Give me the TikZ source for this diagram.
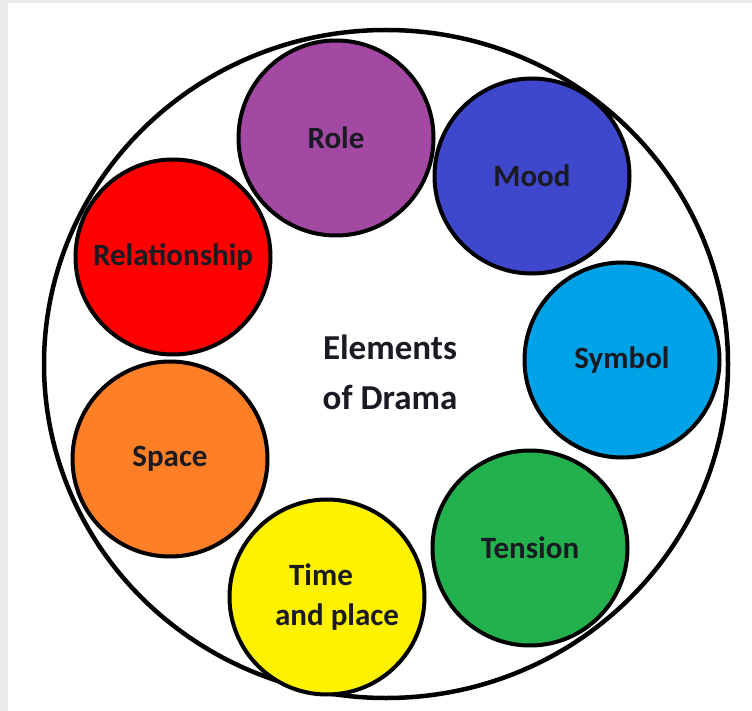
\documentclass[tikz,border=0pt]{standalone}
\usepackage{fontspec}
\setmainfont{Carlito}
\usetikzlibrary{positioning}
\definecolor{rolecol}{HTML}{A349A4}
\definecolor{moodcol}{HTML}{3F48CC}
\definecolor{symbolcol}{HTML}{00A2E8}
\definecolor{tensioncol}{HTML}{22B14C}
\definecolor{timecol}{HTML}{FFF200}
\definecolor{spacecol}{HTML}{FF7F27}
\definecolor{relcol}{HTML}{FF0000}
\definecolor{inkcol}{HTML}{1A1A22}
\tikzset{
  ring/.style    = {draw=black, line width=4.5pt},
  part/.style    = {circle, draw=black, line width=4pt, minimum size=195pt, inner sep=0pt,
                    align=center, text=inkcol, font=\bfseries\fontsize{31}{40}\selectfont},
  title/.style   = {align=center, text=inkcol, font=\bfseries\fontsize{35}{50}\selectfont},
}

\begin{document}
\begin{tikzpicture}[x=1pt,y=-1pt]
  \useasboundingbox (0,0) rectangle (752,711);
  \fill[black!8] (0,0) rectangle (752,711);
  \fill[white] (8,3) rectangle (752,711);
  % outer ring
  \draw[ring] (386,364) ellipse [x radius=342, y radius=334];
  % the seven elements
  \node[part, fill=rolecol]    (role)    at (336,138) {Role};
  \node[part, fill=moodcol]    (mood)    at (532,176) {Mood};
  \node[part, fill=symbolcol]  (symbol)  at (622,360) {Symbol};
  \node[part, fill=tensioncol] (tension) at (530,548) {Tension};
  \node[part, fill=timecol]    (time)    at (327,597) {Time\hspace*{12pt}\\\hspace*{20pt}and place};
  \node[part, fill=spacecol]   (space)   at (170,459) {Space};
  \node[part, fill=relcol]     (rel)     at (173,257) {Relationship};
  \node[title] (centre) at (390,372) {Elements\\of Drama};
\end{tikzpicture}
\end{document}
